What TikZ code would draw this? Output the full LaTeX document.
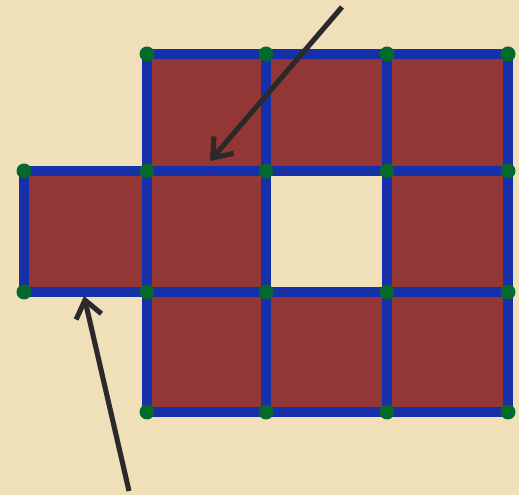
\documentclass[tikz,border=0pt]{standalone}
\usepackage{tikz}
\usepackage{xcolor}
\usetikzlibrary{arrows.meta}

\definecolor{parchment}{HTML}{EFE0BA}
\definecolor{tilered}{HTML}{933636}
\definecolor{edgeblue}{HTML}{1530A8}
\definecolor{dotgreen}{HTML}{036A2C}
\definecolor{pointer}{HTML}{2A2A2A}

\tikzset{
  tile/.style={fill=tilered},
  edge/.style={draw=edgeblue,line width=3.1pt,line cap=rect},
  vdot/.style={fill=dotgreen},
  pointarrow/.style={draw=pointer,line width=1.45pt,-{Straight Barb[length=1.7mm,width=2.6mm]}}
}

\begin{document}
\begin{tikzpicture}[x=0.01cm,y=-0.01cm]
\fill[parchment] (0,0) rectangle (519,495);
\useasboundingbox (0,0) rectangle (519,495);
% grid points
\coordinate (b1) at (147,54);
\coordinate (c1) at (266,54);
\coordinate (d1) at (387,54);
\coordinate (e1) at (508,54);
\coordinate (a2) at (24,171);
\coordinate (b2) at (147,171);
\coordinate (c2) at (266,171);
\coordinate (d2) at (387,171);
\coordinate (e2) at (508,171);
\coordinate (a3) at (24,292);
\coordinate (b3) at (147,292);
\coordinate (c3) at (266,292);
\coordinate (d3) at (387,292);
\coordinate (e3) at (508,292);
\coordinate (b4) at (147,412);
\coordinate (c4) at (266,412);
\coordinate (d4) at (387,412);
\coordinate (e4) at (508,412);
% tiles
\fill[tile] (b1) rectangle (e2);
\fill[tile] (a2) rectangle (c3);
\fill[tile] (d2) rectangle (e3);
\fill[tile] (b3) rectangle (e4);
% edges
\draw[edge] (b1) -- (e1);
\draw[edge] (a2) -- (e2);
\draw[edge] (a3) -- (e3);
\draw[edge] (b4) -- (e4);
\draw[edge] (a2) -- (a3);
\draw[edge] (b1) -- (b4);
\draw[edge] (c1) -- (c4);
\draw[edge] (d1) -- (d4);
\draw[edge] (e1) -- (e4);
% vertices
\foreach \p in {b1,c1,d1,e1,a2,b2,c2,d2,e2,a3,b3,c3,d3,e3,b4,c4,d4,e4}
  \fill[vdot] (\p) circle (7.5);
% arrows
\coordinate (top) at (342,7);
\coordinate (toptip) at (210,161);
\coordinate (bot) at (129,491);
\coordinate (bottip) at (84,296);
\draw[pointarrow] (top) -- (toptip);
\draw[pointarrow] (bot) -- (bottip);
\end{tikzpicture}
\end{document}
